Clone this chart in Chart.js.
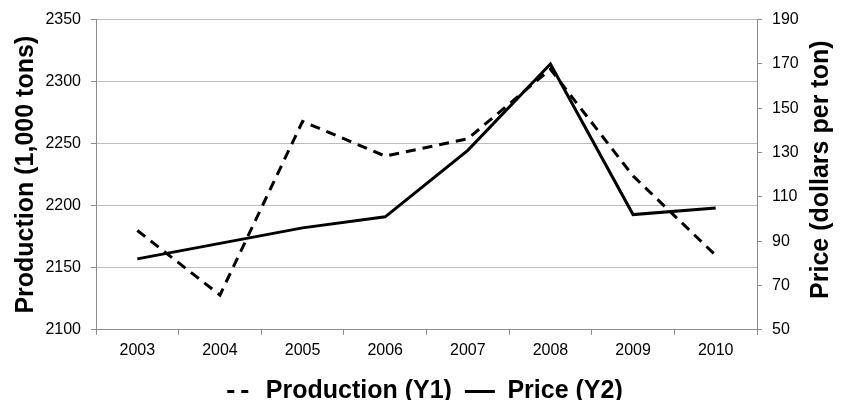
<!DOCTYPE html>
<html>
<head>
<meta charset="utf-8">
<script src="https://cdn.jsdelivr.net/npm/chart.js@4.4.0/dist/chart.umd.min.js"></script>
<style>
  html, body { margin: 0; background: #fff; overflow: hidden; height: 400px; }
  /* the original picture cuts the legend off at the bottom, so the canvas is a bit taller than the window */
  #wrap { width: 848px; height: 414px; position: relative; }
</style>
</head>
<body>
<div id="wrap"><canvas id="prodChart"></canvas></div>
<script>
// data
const years = ["2003", "2004", "2005", "2006", "2007", "2008", "2009", "2010"];
const production = [2180, 2128, 2268, 2240, 2254, 2310, 2224, 2160]; // 1,000 tons (Y1)
const price = [82, 89, 96, 101, 131, 170, 102, 105]; // dollars per ton (Y2)

const FONT = "'Liberation Sans', Arial, sans-serif";
const AXIS_GREY = "#8c8c8c";
const RIGHT_TITLE = "Price (dollars per ton)";

// legend with the dash pattern of the dataset (point style legends drop it)
function legendLabels(chart) {
    const items = Chart.defaults.plugins.legend.labels.generateLabels(chart);
    items.forEach((item, i) => {
        const ds = chart.data.datasets[i];
        item.lineWidth = 3;
        item.strokeStyle = "#000";
        item.lineDash = ds.borderDash ? [7, 7] : [];
        item.lineDashOffset = 10;
    });
    return items;
}

// right axis title reads bottom-to-top like the left one, chart.js would turn it the other way
const rightTitle = {
    id: "rightTitle",
    afterDraw(chart) {
        const c = chart.ctx;
        const sc = chart.scales.y1;
        const area = chart.chartArea;
        c.save();
        c.translate(sc.right - 21, (area.top + area.bottom) / 2 - 5);
        c.rotate(-Math.PI / 2);
        c.font = "bold 25px " + FONT;
        c.fillStyle = "#000";
        c.textAlign = "center";
        c.textBaseline = "middle";
        c.fillText(RIGHT_TITLE, 0, 0);
        c.restore();
    }
};

const ctx = document.getElementById("prodChart").getContext("2d");
new Chart(ctx, {
    type: "line",
    data: {
        labels: years,
        datasets: [
            {
                label: "Production (Y1)",
                data: production,
                borderColor: "#000",
                backgroundColor: "#000",
                borderWidth: 3,
                borderDash: [10, 7],
                pointRadius: 0,
                tension: 0,
                yAxisID: "y"
            },
            {
                label: "Price (Y2)",
                data: price,
                borderColor: "#000",
                backgroundColor: "#000",
                borderWidth: 3,
                pointRadius: 0,
                tension: 0,
                yAxisID: "y1"
            }
        ]
    },
    plugins: [rightTitle],
    options: {
        responsive: true,
        maintainAspectRatio: false,
        animation: false,
        layout: { padding: { top: 18, right: 6, left: 4, bottom: 0 } },
        plugins: {
            tooltip: { enabled: false },
            legend: {
                position: "bottom",
                labels: {
                    usePointStyle: true,
                    pointStyle: "line",
                    pointStyleWidth: 30,
                    boxHeight: 3,
                    color: "#000",
                    padding: 13,
                    generateLabels: legendLabels,
                    font: { family: FONT, size: 25, weight: "bold" }
                }
            }
        },
        scales: {
            x: {
                offset: true,
                grid: {
                    drawOnChartArea: false,
                    offset: true,
                    tickLength: 5,
                    tickColor: AXIS_GREY
                },
                border: { color: AXIS_GREY },
                ticks: {
                    color: "#000",
                    padding: 6,
                    maxRotation: 0,
                    font: { family: FONT, size: 16 }
                }
            },
            y: {
                position: "left",
                min: 2100,
                max: 2350,
                afterFit: (scale) => { scale.width = 92; },
                ticks: {
                    stepSize: 50,
                    color: "#000",
                    padding: 10,
                    callback: (v) => String(v),
                    font: { family: FONT, size: 16 }
                },
                grid: {
                    color: "#bdbdbd",
                    tickColor: AXIS_GREY,
                    tickLength: 5
                },
                border: { color: AXIS_GREY },
                title: {
                    display: true,
                    text: "Production (1,000 tons)",
                    color: "#000",
                    padding: { top: 7, bottom: 0 },
                    font: { family: FONT, size: 25, weight: "bold" }
                }
            },
            y1: {
                position: "right",
                min: 50,
                max: 190,
                afterFit: (scale) => { scale.width = 85; },
                ticks: {
                    stepSize: 20,
                    color: "#000",
                    padding: 10,
                    callback: (v) => String(v),
                    font: { family: FONT, size: 16 }
                },
                grid: {
                    drawOnChartArea: false,
                    tickColor: AXIS_GREY,
                    tickLength: 5
                },
                border: { color: AXIS_GREY }
            }
        }
    }
});
</script>
</body>
</html>
